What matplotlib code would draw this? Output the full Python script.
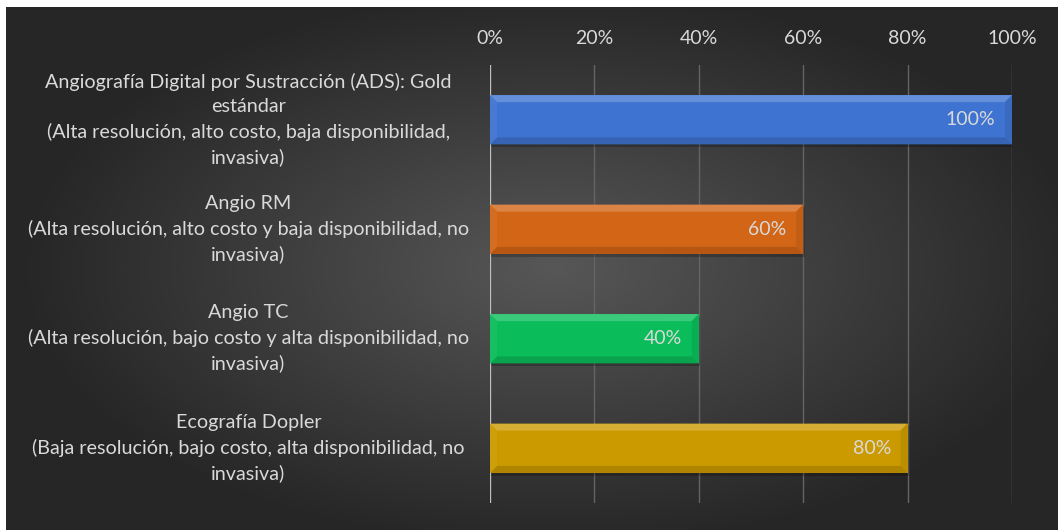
import matplotlib.pyplot as plt
from matplotlib.patches import Polygon, Rectangle
from matplotlib.ticker import PercentFormatter
import matplotlib.transforms as mtransforms
import matplotlib.colors as mcolors
import numpy as np

plt.rcParams['font.family'] = ['Lato', 'DejaVu Sans']

categories = [
    "Angiografía Digital por Sustracción (ADS): Gold\nestándar\n(Alta resolución, alto costo, baja disponibilidad,\ninvasiva)",
    "Angio RM\n(Alta resolución, alto costo y baja disponibilidad, no\ninvasiva)",
    "Angio TC\n(Alta resolución, bajo costo y alta disponibilidad, no\ninvasiva)",
    "Ecografía Dopler\n(Baja resolución, bajo costo, alta disponibilidad, no\ninvasiva)",
]
values = [100, 60, 40, 80]
colors = ['#3f73d1', '#d26516', '#0abd5a', '#cb9a00']

txt = '#d9d9d9'

fig = plt.figure(figsize=(10.58, 5.30), dpi=100)
fig.patch.set_facecolor('white')

# radial gradient background
bg = fig.add_axes([6 / 1058, 0, 1 - 6 / 1058, 523 / 530])
bg.set_axis_off()
xx, yy = np.meshgrid(np.linspace(0, 1, 400), np.linspace(0, 1, 200))
r = np.sqrt(((xx - 0.52) / 0.52) ** 2 + ((yy - 0.5) / 0.55) ** 2)
shade = np.clip(87 - 50 * r, 38, 87) / 255.0
bg.imshow(np.dstack([shade, shade, shade]), aspect='auto', extent=[0, 1, 0, 1],
          interpolation='bilinear')
bg.set_xlim(0, 1)
bg.set_ylim(0, 1)

ax = fig.add_axes([490 / 1058, 27 / 530, 522 / 1058, 438 / 530])
ax.patch.set_alpha(0)

pos = np.arange(len(categories))
bars = ax.barh(pos, values, height=0.45, color=colors, zorder=3)

ax.set_xlim(0, 100)
ax.set_ylim(3.5, -0.5)

# bevel effect on each bar
fig.canvas.draw()
px_x = ax.transData.transform((1, 0))[0] - ax.transData.transform((0, 0))[0]
px_y = abs(ax.transData.transform((0, 1))[1] - ax.transData.transform((0, 0))[1])
bev = 7.0
dx = bev / px_x
dy = bev / px_y

for b, c in zip(bars, colors):
    x0, y0 = b.get_x(), b.get_y()
    w, h = b.get_width(), b.get_height()
    x1, y1 = x0 + w, y0 + h
    base = np.array(mcolors.to_rgb(c))
    light = base + (1 - base) * 0.2
    dark = base * 0.86
    mid_l = base + (1 - base) * 0.05
    mid_d = base * 0.92
    # shadow
    ax.add_patch(Rectangle((x0 + 0.25, y0 + 0.025), w, h, facecolor='black',
                           alpha=0.22, edgecolor='none', zorder=2.5))
    ax.add_patch(Polygon([(x0, y0), (x1, y0), (x1 - dx, y0 + dy), (x0 + dx, y0 + dy)],
                         facecolor=light, edgecolor='none', zorder=4))
    ax.add_patch(Polygon([(x0, y1), (x1, y1), (x1 - dx, y1 - dy), (x0 + dx, y1 - dy)],
                         facecolor=dark, edgecolor='none', zorder=4))
    ax.add_patch(Polygon([(x0, y0), (x0 + dx, y0 + dy), (x0 + dx, y1 - dy), (x0, y1)],
                         facecolor=mid_l, edgecolor='none', zorder=4))
    ax.add_patch(Polygon([(x1, y0), (x1 - dx, y0 + dy), (x1 - dx, y1 - dy), (x1, y1)],
                         facecolor=mid_d, edgecolor='none', zorder=4))

vlabels = ax.bar_label(bars, labels=[f"{v}%" for v in values], label_type='edge',
                       padding=-12, color=txt, fontsize=14, zorder=5)
for t in vlabels:
    t.set_ha('right')

# axes styling
ax.xaxis.set_major_formatter(PercentFormatter(decimals=0))
ax.set_xticks(np.arange(0, 101, 20))
ax.xaxis.tick_top()
ax.tick_params(axis='x', length=0, pad=13, labelsize=14, labelcolor=txt)
ax.grid(axis='x', color='#646464', linewidth=1, zorder=1)
for s in ax.spines.values():
    s.set_visible(False)
ax.axvline(0, color='#bfbfbf', linewidth=1.6, zorder=3.5)

ax.set_yticks(pos, categories)
ax.tick_params(axis='y', length=0, pad=174, labelsize=14.2, labelcolor=txt)
nudge = mtransforms.ScaledTranslation(0, 4 / 72, fig.dpi_scale_trans)
for lbl in ax.get_yticklabels():
    lbl.set_ha('center')
    lbl.set_multialignment('center')
    lbl.set_linespacing(1.5)
    lbl.set_transform(lbl.get_transform() + nudge)

plt.savefig('out.png', dpi=100, facecolor='white')
plt.close()
